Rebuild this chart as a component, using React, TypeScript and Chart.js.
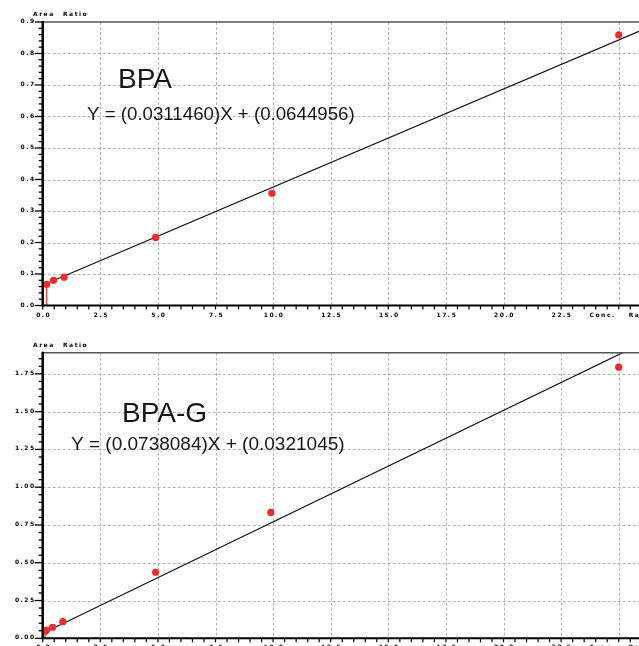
import React, { useEffect, useRef } from 'react';
import { Chart, registerables } from 'chart.js';

Chart.register(...registerables);

// calibration levels (conc. ratio vs area ratio)
const bpaConc = [0.17, 0.47, 0.93, 4.9, 9.95, 25.0];
const bpaRatio = [0.067, 0.08, 0.09, 0.216, 0.356, 0.859];
const bpaSlope = 0.031146;
const bpaIntercept = 0.0644956;

const bpagConc = [0.1, 0.17, 0.43, 0.87, 4.9, 9.9, 25.0];
const bpagRatio = [0.045, 0.055, 0.073, 0.11, 0.437, 0.833, 1.794];
const bpagSlope = 0.0738084;
const bpagIntercept = 0.0321045;

const xTickLabels = ['0.0', '2.5', '5.0', '7.5', '10.0', '12.5', '15.0', '17.5', '20.0', '22.5', 'Conc.'];
const xAxisTitle = 'Ratio';
const yAxisTitle = ['Area', 'Ratio'];
const bpaYTicks = ['0.0', '0.1', '0.2', '0.3', '0.4', '0.5', '0.6', '0.7', '0.8', '0.9'];
const bpagYTicks = ['0.00', '0.25', '0.50', '0.75', '1.00', '1.25', '1.50', '1.75'];

const X_MAX = 25.88;
const X_STEP = 2.5;
const X_MINOR = 0.5;

interface CalProps {
    concs: number[];
    ratios: number[];
    slope: number;
    intercept: number;
    yMax: number;
    yStep: number;
    yMinor: number;
    yLabels: string[];
    name: string;
    equation: string;
    height: number;
    top: number;
    plotTop: number;
    plotBottom: number;
    nameX: number;
    nameY: number;
    eqX: number;
    eqY: number;
    eqSize: number;
}

const W = 639;
const TICK_FONT = 'bold 6px "DejaVu Sans"';

const CalibrationChart: React.FC<CalProps> = (p) => {
    const canvasRef = useRef<HTMLCanvasElement>(null);

    useEffect(() => {
        if (!canvasRef.current) return;
        const ctx = canvasRef.current.getContext('2d');
        if (!ctx) return;

        const x0 = p.concs[0];

        const axesPlugin = {
            id: 'chemAxes',
            beforeDatasetsDraw(chart: Chart) {
                const { ctx: c, chartArea: a, scales } = chart;
                const xs = scales.x;
                const ys = scales.y;
                c.save();
                c.strokeStyle = '#b4b4b4';
                c.lineWidth = 1;
                c.setLineDash([3, 2]);
                for (let i = 1; i * X_STEP <= X_MAX; i++) {
                    const px = Math.round(xs.getPixelForValue(i * X_STEP)) + 0.5;
                    c.beginPath();
                    c.moveTo(px, a.top);
                    c.lineTo(px, a.bottom);
                    c.stroke();
                }
                for (let j = 1; j * p.yStep < p.yMax - 1e-6; j++) {
                    const py = Math.round(ys.getPixelForValue(j * p.yStep)) + 0.5;
                    c.beginPath();
                    c.moveTo(a.left, py);
                    c.lineTo(a.right, py);
                    c.stroke();
                }
                c.restore();
            },
            afterDraw(chart: Chart) {
                const { ctx: c, chartArea: a, scales } = chart;
                const xs = scales.x;
                const ys = scales.y;
                c.save();
                c.setLineDash([]);

                // top frame
                c.strokeStyle = '#555';
                c.lineWidth = 1.5;
                c.beginPath();
                c.moveTo(a.left, a.top);
                c.lineTo(a.right, a.top);
                c.stroke();

                // axes
                c.strokeStyle = '#000';
                c.lineWidth = 2.5;
                c.beginPath();
                c.moveTo(a.left, a.top - 1);
                c.lineTo(a.left, a.bottom + 1);
                c.stroke();
                c.lineWidth = 2;
                c.beginPath();
                c.moveTo(a.left - 1, a.bottom);
                c.lineTo(a.right, a.bottom);
                c.stroke();

                // y ticks
                c.lineWidth = 1.3;
                const per = Math.round(p.yStep / p.yMinor);
                const n = Math.floor(p.yMax / p.yMinor + 1e-6);
                for (let i = 0; i <= n; i++) {
                    const py = ys.getPixelForValue(i * p.yMinor);
                    const major = i % per === 0;
                    c.beginPath();
                    c.moveTo(a.left - (major ? 8 : 4), py);
                    c.lineTo(a.left, py);
                    c.stroke();
                }

                // x ticks
                c.lineWidth = 1.2;
                const nx = Math.floor(X_MAX / X_MINOR + 1e-6);
                for (let i = 0; i <= nx; i++) {
                    const px = xs.getPixelForValue(i * X_MINOR);
                    c.beginPath();
                    c.moveTo(px, a.bottom);
                    c.lineTo(px, a.bottom + 4);
                    c.stroke();
                }

                // tick labels
                c.fillStyle = '#000';
                c.font = TICK_FONT;
                (c as any).letterSpacing = '1.5px';
                c.textBaseline = 'alphabetic';
                c.textAlign = 'right';
                p.yLabels.forEach((lbl, i) => {
                    const py = ys.getPixelForValue(i * p.yStep);
                    c.fillText(lbl, a.left - 7, py + 1);
                });
                xTickLabels.forEach((lbl, i) => {
                    const px = xs.getPixelForValue(i * X_STEP);
                    if (i === xTickLabels.length - 1) {
                        c.textAlign = 'right';
                        c.fillText(lbl, px - 3, a.bottom + 11);
                        c.textAlign = 'left';
                        c.fillText(xAxisTitle, px + 10, a.bottom + 11);
                    } else {
                        c.textAlign = 'center';
                        c.fillText(lbl, px + 1, a.bottom + 11);
                    }
                });
                c.textAlign = 'left';
                c.fillText(yAxisTitle[0], 33, a.top - 6);
                c.fillText(yAxisTitle[1], 63, a.top - 6);

                // compound name + fitted equation
                (c as any).letterSpacing = '0px';
                c.fillStyle = '#161616';
                c.font = '28px "Liberation Sans"';
                c.fillText(p.name, p.nameX, p.nameY);
                c.font = `${p.eqSize}px "Liberation Sans"`;
                c.fillText(p.equation, p.eqX, p.eqY);
                c.restore();
            },
        };

        const chart = new Chart(ctx, {
            type: 'scatter',
            data: {
                datasets: [
                    {
                        data: p.concs.map((v, i) => ({ x: v, y: p.ratios[i] })),
                        backgroundColor: '#ef2b2b',
                        borderWidth: 0,
                        pointRadius: 3.6,
                        order: 0,
                    },
                    {
                        data: [
                            { x: x0, y: p.ratios[0] },
                            { x: x0, y: 0 },
                        ],
                        showLine: true,
                        borderColor: '#f04a4a',
                        borderWidth: 1.5,
                        pointRadius: 0,
                        order: 1,
                    },
                    {
                        data: [
                            { x: x0, y: p.slope * x0 + p.intercept },
                            { x: X_MAX, y: p.slope * X_MAX + p.intercept },
                        ],
                        showLine: true,
                        borderColor: '#111',
                        borderWidth: 1.2,
                        pointRadius: 0,
                        order: 2,
                    },
                ],
            },
            options: {
                animation: false,
                responsive: false,
                maintainAspectRatio: false,
                events: [],
                layout: { autoPadding: false, padding: { top: p.plotTop, left: 0, right: 0, bottom: 0 } },
                plugins: { legend: { display: false }, tooltip: { enabled: false } },
                scales: {
                    x: {
                        type: 'linear',
                        min: 0,
                        max: X_MAX,
                        ticks: { display: false },
                        grid: { display: false },
                        border: { display: false },
                        afterFit: (s: any) => {
                            s.height = p.height - p.plotBottom;
                        },
                    },
                    y: {
                        type: 'linear',
                        min: 0,
                        max: p.yMax,
                        ticks: { display: false },
                        grid: { display: false },
                        border: { display: false },
                        afterFit: (s: any) => {
                            s.width = 42.7;
                        },
                    },
                },
            },
            plugins: [axesPlugin],
        });

        return () => {
            chart.destroy();
        };
    }, [p]);

    return (
        <canvas
            ref={canvasRef}
            width={W}
            height={p.height}
            style={{ position: 'absolute', left: 0, top: p.top, width: W, height: p.height, display: 'block' }}
        />
    );
};

const bpaProps: CalProps = {
    concs: bpaConc,
    ratios: bpaRatio,
    slope: bpaSlope,
    intercept: bpaIntercept,
    yMax: 0.9,
    yStep: 0.1,
    yMinor: 0.02,
    yLabels: bpaYTicks,
    name: 'BPA',
    equation: 'Y = (0.0311460)X + (0.0644956)',
    height: 330,
    top: 0,
    plotTop: 22,
    plotBottom: 305.5,
    nameX: 118,
    nameY: 88,
    eqX: 87,
    eqY: 119.5,
    eqSize: 18.7,
};

const bpagProps: CalProps = {
    concs: bpagConc,
    ratios: bpagRatio,
    slope: bpagSlope,
    intercept: bpagIntercept,
    yMax: 1.89,
    yStep: 0.25,
    yMinor: 0.05,
    yLabels: bpagYTicks,
    name: 'BPA-G',
    equation: 'Y = (0.0738084)X + (0.0321045)',
    height: 316,
    top: 330,
    plotTop: 22.7,
    plotBottom: 308.3,
    nameX: 122,
    nameY: 91.7,
    eqX: 71,
    eqY: 120,
    eqSize: 19,
};

export default function App() {
    return (
        <div style={{ position: 'absolute', left: 0, top: 0, width: W, height: 646, background: '#fff', overflow: 'hidden' }}>
            <CalibrationChart {...bpaProps} />
            <CalibrationChart {...bpagProps} />
        </div>
    );
}
